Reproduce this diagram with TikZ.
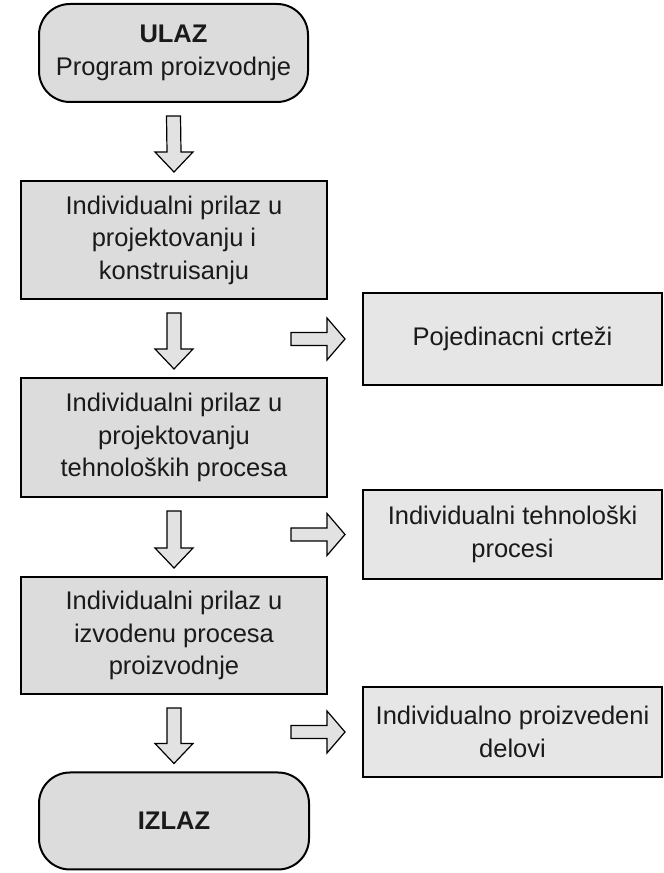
\documentclass[tikz,border=0pt]{standalone}
\usepackage{fontspec}
\setmainfont{Liberation Sans}
\usetikzlibrary{calc}

\definecolor{boxgray}{HTML}{DCDCDC}
\definecolor{sidegray}{HTML}{E6E6E6}
\definecolor{arrgray}{HTML}{E2E2E2}
\definecolor{txt}{HTML}{1A1A1A}

\tikzset{
  box/.style={draw, line width=2pt, fill=boxgray, text=txt, align=center,
    inner sep=0pt, font=\fontsize{25.5}{32.5}\selectfont},
  term/.style={box, rounded corners=31pt},
  sidebox/.style={box, fill=sidegray, minimum width=299pt},
  blockarr/.style={draw, line width=1.2pt, fill=arrgray, line join=miter}
}

% block arrow pointing down, from node #1 to node #2
\newcommand{\blockdown}[2]{
  \draw[blockarr] ($(#1.south)+(-7,-13)$) -- ($(#1.south)+(7,-13)$)
    -- ($(#2.north)+(7,28)$) -- ($(#2.north)+(19,28)$) -- ($(#2.north)+(0,8)$)
    -- ($(#2.north)+(-19,28)$) -- ($(#2.north)+(-7,28)$) -- cycle;
}
% block arrow pointing right, from coordinate #1 to node #2
\newcommand{\blockright}[2]{
  \draw[blockarr] ($(#1)+(0,6.5)$) -- ($(#2.west)+(-35,6.5)$)
    -- ($(#2.west)+(-35,21)$) -- ($(#2.west)+(-17,0)$) -- ($(#2.west)+(-35,-21)$)
    -- ($(#2.west)+(-35,-6.5)$) -- ($(#1)+(0,-6.5)$) -- cycle;
}

\begin{document}
\begin{tikzpicture}[x=1pt,y=1pt]
  \useasboundingbox (0,0) rectangle (664,873);

  \node[term, minimum width=269pt, minimum height=98pt] (ulaz) at (173.5,820) {\textbf{ULAZ}\\Program proizvodnje};
  \node[box, minimum width=306pt, minimum height=118pt] (ind1) at (174,633) {Individualni prilaz u\\projektovanju i\\konstruisanju};
  \node[box, minimum width=306pt, minimum height=119pt] (ind2) at (174,435.5) {Individualni prilaz u\\projektovanju\\tehnoloških procesa};
  \node[box, minimum width=306pt, minimum height=117pt] (ind3) at (174,237.5) {Individualni prilaz u\\izvodenu procesa\\proizvodnje};
  \node[term, minimum width=270pt, minimum height=97pt] (izlaz) at (174,52) {\textbf{IZLAZ}};

  \node[sidebox, minimum height=92pt] (crt) at (512.5,534) {Pojedinacni crteži};
  \node[sidebox, minimum height=89pt] (teh) at (512.5,338.5) {Individualni tehnološki\\procesi};
  \node[sidebox, minimum height=90pt] (del) at (512.5,141) {Individualno proizvedeni\\delovi};

  \coordinate (s1) at (291,534);
  \coordinate (s2) at (291,338.5);
  \coordinate (s3) at (291,141);

  \blockdown{ulaz}{ind1}
  \blockdown{ind1}{ind2}
  \blockdown{ind2}{ind3}
  \blockdown{ind3}{izlaz}

  \blockright{s1}{crt}
  \blockright{s2}{teh}
  \blockright{s3}{del}
\end{tikzpicture}
\end{document}
